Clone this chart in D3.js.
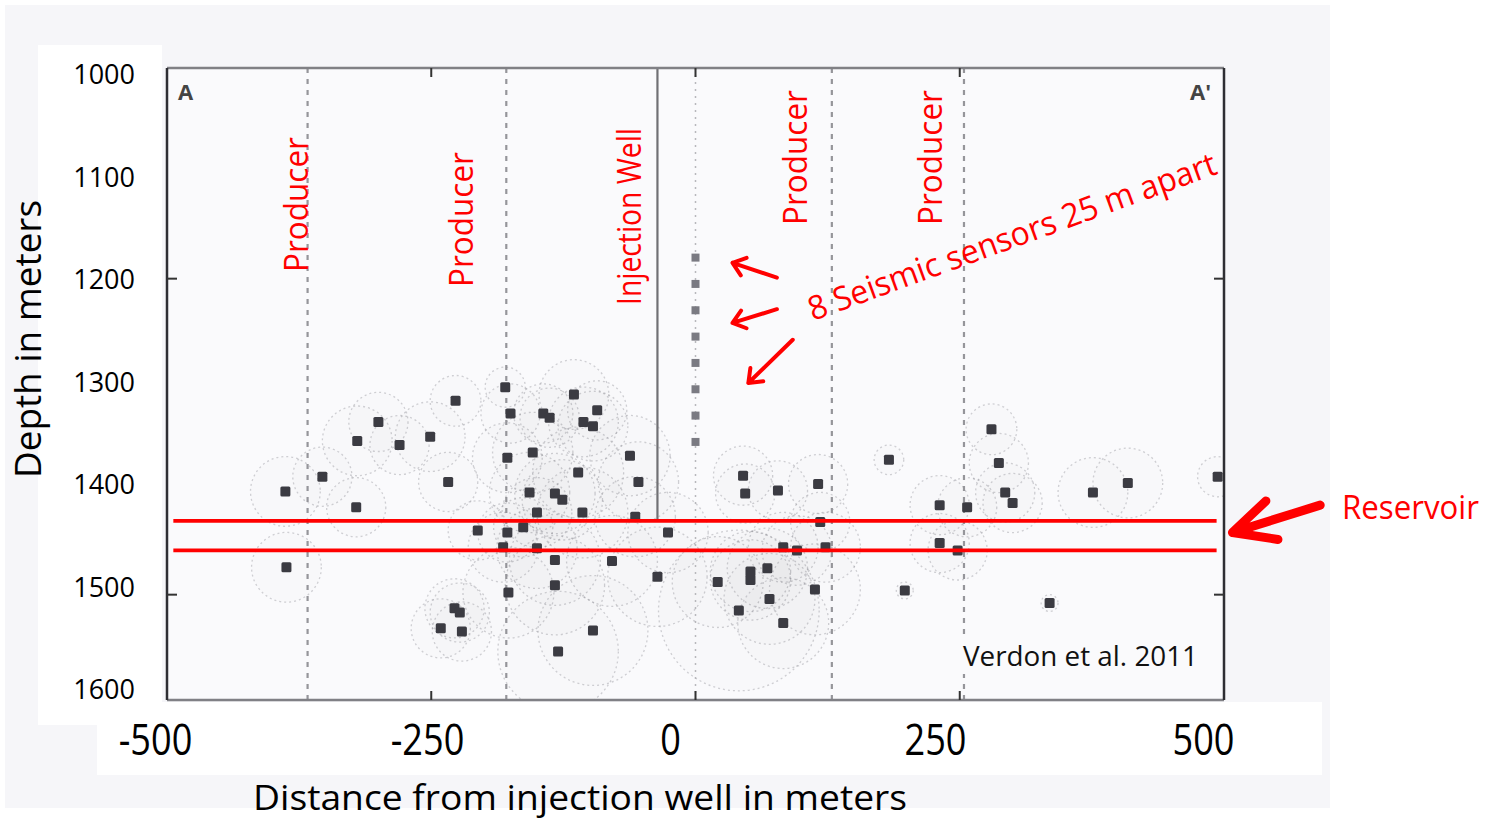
<!DOCTYPE html>
<html><head><meta charset="utf-8">
<script src="https://cdn.jsdelivr.net/npm/d3@7"></script>
<style>body{margin:0;background:#fff;} svg{display:block;font-family:"Open Sans",sans-serif;}</style>
</head><body><svg id="c" width="1490" height="819"></svg>
<script>
// ---- data ----
const xTicks = [-500, -250, 0, 250, 500];
const yTicks = [1000, 1100, 1200, 1300, 1400, 1500, 1600];
const frameTicksX = [-250, 0, 250];
const frameTicksY = [1200, 1500];
const producerX = [-367, -179, 129, 254];
const injectionX = -36;
const injectionBottom = 1429;
const monitorX = 0;
const sensorDepth = [1180, 1205, 1230, 1255, 1280, 1305, 1330, 1355];
const reservoirDepth = [1430, 1458];
const reservoirExtent = [-494, 493];
const eventX = [-388,-353,-387,-321,-320,-300,-280,-251,-227,-234,-206,-180,-175,-178,-178,-163,-157,-154,-150,-144,-138,-133,-126,-115,-106,-97,-93,-111,-107,-62,-54,-57,-26,-133,-79,-36,-133,-177,-97,-130,-228,-223,-241,-221,-150,-182,21,52,52,68,41,70,83,113,83,96,123,45,47,78,116,118,183,231,257,231,248,280,287,293,300,376,409,494,198,335];
const eventDepth = [1402,1388,1474,1417,1354,1336,1358,1350,1316,1393,1439,1303,1328,1370,1441,1436,1403,1365,1422,1328,1332,1404,1410,1310,1336,1340,1325,1384,1422,1368,1393,1426,1441,1467,1468,1483,1491,1498,1534,1554,1513,1517,1532,1535,1456,1455,1488,1478,1486,1475,1515,1504,1527,1495,1455,1458,1455,1387,1404,1401,1395,1431,1372,1415,1417,1451,1458,1343,1375,1403,1413,1403,1394,1388,1496,1508];
const eventRadius = [33,28,33,28,33,28,28,33,24,28,28,19,28,33,28,28,38,38,33,28,28,38,38,33,33,33,28,43,43,38,38,38,38,43,43,47,47,43,52,57,28,28,28,28,38,33,43,38,38,38,76,43,43,43,33,33,33,28,28,28,28,28,14,28,28,28,28,24,28,28,28,33,33,19,8,8];

const svg = d3.select('#c');
// scales of the underlying section figure
const xF = d3.scaleLinear().domain([-500, 500]).range([167, 1224]);
const yF = d3.scaleLinear().domain([1000, 1600]).range([68, 700]);
// scales of the overlaid axis labels
const xL = d3.scaleLinear().domain(xTicks).range([155, 427, 670, 935, 1203]);
const yL = d3.scaleLinear().domain([1000, 1600]).range([75, 690]);

// backgrounds
svg.append('rect').attr('x',5).attr('y',5).attr('width',1325).attr('height',803).attr('fill','#f6f6f9');
svg.append('rect').attr('x',38).attr('y',45).attr('width',124).attr('height',680).attr('fill','#fff');
svg.append('rect').attr('x',97).attr('y',702).attr('width',1225).attr('height',73).attr('fill','#fff');
const [fx0, fx1] = xF.range(), [fy0, fy1] = yF.range();
svg.append('rect').attr('x',fx0).attr('y',fy0).attr('width',fx1-fx0).attr('height',fy1-fy0).attr('fill','#fafafc');

svg.append('clipPath').attr('id','clip').append('rect')
  .attr('x',fx0).attr('y',fy0).attr('width',fx1-fx0).attr('height',fy1-fy0);
const plot = svg.append('g').attr('clip-path','url(#clip)');

const events = eventX.map((x,i)=>({x, d:eventDepth[i], r:eventRadius[i]}));

// uncertainty circles
plot.append('g').selectAll('circle').data(events).join('circle')
  .attr('cx', e=>xF(e.x)).attr('cy', e=>yF(e.d))
  .attr('r', e=>xF(e.r)-xF(0))
  .attr('fill','#000').attr('fill-opacity',0.009)
  .attr('stroke','#8a8a90').attr('stroke-opacity',0.38)
  .attr('stroke-width',1.3).attr('stroke-dasharray','2,3');

// wells
plot.append('g').selectAll('line').data(producerX).join('line')
  .attr('x1', d=>xF(d)).attr('x2', d=>xF(d)).attr('y1', fy0).attr('y2', fy1)
  .attr('stroke','#95959a').attr('stroke-width',2.2).attr('stroke-dasharray','5,6');
plot.append('line').attr('x1',xF(injectionX)).attr('x2',xF(injectionX))
  .attr('y1',fy0).attr('y2',yF(injectionBottom)).attr('stroke','#707074').attr('stroke-width',2.2);
plot.append('line').attr('x1',xF(monitorX)).attr('x2',xF(monitorX))
  .attr('y1',fy0).attr('y2',fy1).attr('stroke','#b8b8bc').attr('stroke-width',1.5).attr('stroke-dasharray','2,5');

// sensors
plot.append('g').selectAll('rect').data(sensorDepth).join('rect')
  .attr('x', xF(monitorX)-4).attr('y', d=>yF(d)-4).attr('width',8).attr('height',8)
  .attr('fill','#7a7a82');

// events
plot.append('g').selectAll('rect').data(events).join('rect')
  .attr('x', e=>xF(e.x)-5).attr('y', e=>yF(e.d)-5).attr('width',10).attr('height',10)
  .attr('rx',1.5).attr('fill','#3b3b42');

// frame
svg.append('line').attr('x1',fx0).attr('x2',fx1).attr('y1',fy0).attr('y2',fy0).attr('stroke','#808085').attr('stroke-width',2.5);
svg.append('line').attr('x1',fx0).attr('x2',fx1).attr('y1',fy1).attr('y2',fy1).attr('stroke','#808085').attr('stroke-width',2.5);
svg.append('line').attr('x1',fx0).attr('x2',fx0).attr('y1',fy0).attr('y2',fy1).attr('stroke','#2e2e33').attr('stroke-width',2.5);
svg.append('line').attr('x1',fx1).attr('x2',fx1).attr('y1',fy0).attr('y2',fy1).attr('stroke','#2e2e33').attr('stroke-width',2.5);
frameTicksX.forEach(t=>{
  svg.append('line').attr('x1',xF(t)).attr('x2',xF(t)).attr('y1',fy0).attr('y2',fy0+9).attr('stroke','#333').attr('stroke-width',2);
  svg.append('line').attr('x1',xF(t)).attr('x2',xF(t)).attr('y1',fy1-9).attr('y2',fy1).attr('stroke','#333').attr('stroke-width',2);
});
frameTicksY.forEach(t=>{
  svg.append('line').attr('x1',fx0).attr('x2',fx0+10).attr('y1',yF(t)).attr('y2',yF(t)).attr('stroke','#333').attr('stroke-width',2);
  svg.append('line').attr('x1',fx1-10).attr('x2',fx1).attr('y1',yF(t)).attr('y2',yF(t)).attr('stroke','#333').attr('stroke-width',2);
});
svg.append('text').attr('x',178).attr('y',100).attr('font-size',22).attr('font-weight','bold').attr('fill','#444').text('A');
svg.append('text').attr('x',1190).attr('y',100).attr('font-size',22).attr('font-weight','bold').attr('fill','#444').text("A'");

// reservoir lines
svg.append('g').selectAll('line').data(reservoirDepth).join('line')
  .attr('x1', xF(reservoirExtent[0])).attr('x2', xF(reservoirExtent[1]))
  .attr('y1', d=>yF(d)).attr('y2', d=>yF(d))
  .attr('stroke','#ff0000').attr('stroke-width',3.8);

// axes (overlay labels)
const ax = svg.append('g').attr('transform','translate(0,721)')
  .call(d3.axisBottom(xL).tickValues(xTicks).tickSize(0).tickPadding(3).tickFormat(d=>String(d)));
ax.select('.domain').remove();
ax.selectAll('text').attr('font-size',43).attr('font-family','"Open Sans",sans-serif').attr('fill','#000')
  .attr('transform','scale(0.84,1)');
const ay = svg.append('g').attr('transform','translate(138,0)')
  .call(d3.axisLeft(yL).tickValues(yTicks).tickSize(0).tickPadding(3).tickFormat(d=>String(d)));
ay.select('.domain').remove();
ay.selectAll('text').attr('font-size',27).attr('font-family','"Open Sans",sans-serif').attr('fill','#000');

svg.append('text').attr('x',253).attr('y',810).attr('font-size',35).attr('fill','#000')
  .attr('textLength',654).attr('lengthAdjust','spacingAndGlyphs').text('Distance from injection well in meters');
svg.append('text').attr('transform','translate(41,478) rotate(-90)').attr('font-size',36).attr('fill','#000')
  .attr('textLength',278).attr('lengthAdjust','spacingAndGlyphs').text('Depth in meters');

// red annotations
const red = '#ff0000';
const vlabels = [
  {t:'Producer', x:308, y:272, len:135},
  {t:'Producer', x:473, y:287, len:135},
  {t:'Injection Well', x:641, y:305, len:177},
  {t:'Producer', x:807, y:225, len:135},
  {t:'Producer', x:942, y:225, len:135}
];
vlabels.forEach(v=>{
  svg.append('text').attr('transform',`translate(${v.x},${v.y}) rotate(-90)`)
    .attr('font-size',33).attr('fill',red).attr('textLength',v.len).attr('lengthAdjust','spacingAndGlyphs').text(v.t);
});
svg.append('text').attr('transform','translate(813,321) rotate(-20)').attr('font-size',33).attr('fill',red)
  .attr('textLength',432).attr('lengthAdjust','spacingAndGlyphs').text('8 Seismic sensors 25 m apart');
svg.append('text').attr('x',1342).attr('y',519).attr('font-size',32).attr('fill',red)
  .attr('textLength',137).attr('lengthAdjust','spacingAndGlyphs').text('Reservoir');
svg.append('rect').attr('x',958).attr('y',638).attr('width',245).attr('height',36).attr('fill','#fafafc');
svg.append('text').attr('x',963).attr('y',666).attr('font-size',27).attr('fill','#111')
  .attr('textLength',235).attr('lengthAdjust','spacingAndGlyphs').text('Verdon et al. 2011');

function arrow(x1,y1,x2,y2,w,head,spread){
  const a = Math.atan2(y1-y2, x1-x2);
  const s = spread*Math.PI/180;
  const p = d3.path();
  p.moveTo(x1,y1); p.lineTo(x2,y2);
  p.moveTo(x2+head*Math.cos(a+s), y2+head*Math.sin(a+s)); p.lineTo(x2,y2);
  p.lineTo(x2+head*Math.cos(a-s), y2+head*Math.sin(a-s));
  svg.append('path').attr('d',p.toString()).attr('fill','none').attr('stroke',red)
    .attr('stroke-width',w).attr('stroke-linecap','round').attr('stroke-linejoin','round');
}
// arrows in data coordinates
const arrowsData = [
  {x1:77, d1:1199, x2:35, d2:1185},
  {x1:77, d1:1229, x2:35, d2:1242},
  {x1:92, d1:1258, x2:50, d2:1299}
];
arrowsData.forEach(a=>arrow(xF(a.x1),yF(a.d1),xF(a.x2),yF(a.d2),4,15,38));
arrow(xF(591), yF(1415), xF(508), yF(1441), 9, 46, 26);
</script></body></html>
